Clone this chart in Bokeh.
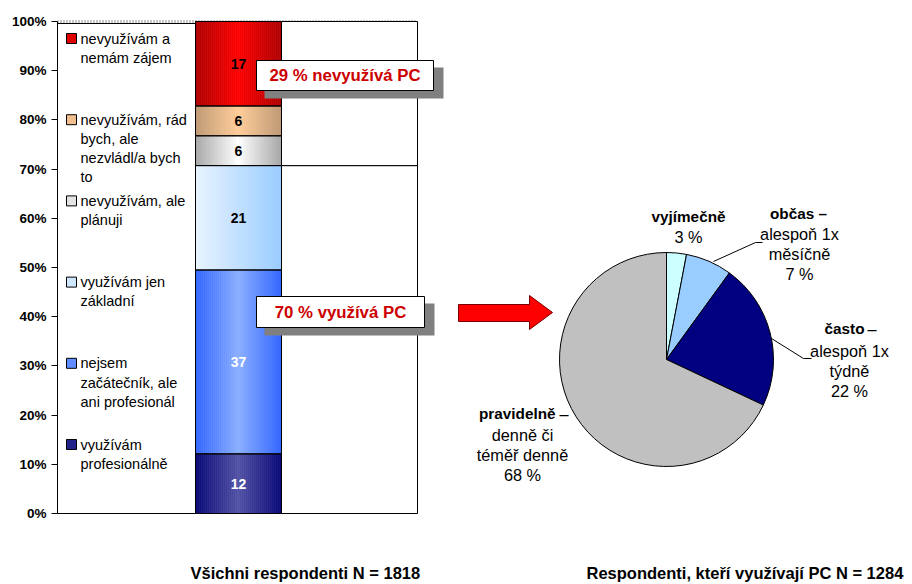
import math
from bokeh.plotting import figure
from bokeh.layouts import row
from bokeh.models import Range1d, FixedTicker, PrintfTickFormatter
from bokeh.core.properties import value
from bokeh.embed import file_html
from bokeh.resources import INLINE

FONT = "Liberation Sans"

# ---------------- data ----------------
# stacked bar (bottom -> top)
usage_categories = [
    "využívám profesionálně",
    "nejsem začátečník, ale ani profesionál",
    "využívám jen základní",
    "nevyužívám, ale plánuji",
    "nevyužívám, rád bych, ale nezvládl/a bych to",
    "nevyužívám a nemám zájem",
]
usage_values = [12, 37, 21, 6, 6, 17]
# legend texts (top -> bottom), wrapped as in the original
legend_texts = [
    ["nevyužívám a", "nemám zájem"],
    ["nevyužívám, rád", "bych, ale", "nezvládl/a bych", "to"],
    ["nevyužívám, ale", "plánuji"],
    ["využívám jen", "základní"],
    ["nejsem", "začátečník, ale", "ani profesionál"],
    ["využívám", "profesionálně"],
]
pc_split_labels = ["využívá PC", "nevyužívá PC"]
pc_split_values = [70, 29]

freq_names = ["vyjímečně", "občas", "často", "pravidelně"]
freq_desc = [[], ["alespoň 1x", "měsíčně"], ["alespoň 1x", "týdně"], ["denně či", "téměř denně"]]
freq_values = [3, 7, 22, 68]

n_all = 1818
n_pc = 1284
y_ticks = list(range(0, 101, 10))

# ---------------- styles ----------------
# (edge colour, centre colour, mode) for each stacked segment, bottom -> top
seg_styles = [
    ("#0a0a78", "#5252a6", "sym"),
    ("#3366ff", "#8aaeff", "sym"),
    ("#e8f3ff", "#99ccff", "lin"),
    ("#a8a8a8", "#ffffff", "sym"),
    ("#c09a74", "#ffcc99", "sym"),
    ("#b00000", "#ff0000", "sym"),
]
seg_text_colors = ["white", "white", "black", "black", "black", "black"]
legend_colors = ["#e00000", "#f2c08e", "#e4e4e4", "#cfe6ff", "#5f8dff", "#23238c"]
pie_colors = ["#ccffff", "#99ccff", "#000080", "#c0c0c0"]


def hex2rgb(h):
    h = h.lstrip("#")
    return tuple(int(h[i:i + 2], 16) for i in (0, 2, 4))


def mix(c1, c2, t):
    a, b = hex2rgb(c1), hex2rgb(c2)
    return "#%02x%02x%02x" % tuple(int(round(a[i] + (b[i] - a[i]) * t)) for i in range(3))


# ---------------- left figure (stacked bar) ----------------
PX = 4.92            # pixels per percent
BOTTOM_PAGE = 513    # page y of 0 %
H = 584


def py(page_y):
    return (BOTTOM_PAGE - page_y) / PX


left = figure(width=450, height=H, x_range=Range1d(57, 450),
              y_range=Range1d(py(H), py(0)), x_axis_type=None,
              output_backend="svg", toolbar_location=None,
              min_border_left=57, min_border_right=0, min_border_top=0, min_border_bottom=0)
left.outline_line_color = None
left.grid.visible = False
ax = left.yaxis[0]
ax.bounds = (0, 100)
ax.ticker = FixedTicker(ticks=y_ticks)
ax.formatter = PrintfTickFormatter(format="%d%%")
ax.major_label_text_font = FONT
ax.major_label_text_font_size = "13.5px"
ax.major_label_text_font_style = "bold"
ax.major_label_text_color = "black"
ax.major_label_standoff = 5
ax.major_tick_out = 6
ax.major_tick_in = 0
ax.minor_tick_out = 0
ax.minor_tick_in = 0
ax.axis_line_color = "black"
ax.major_tick_line_color = "black"

# top dotted border
left.line([57, 417], [py(21), py(21)], line_color="#8c8c8c", line_width=3, line_dash="1 2")

# legend box
left.quad(left=[57], right=[195], bottom=[0], top=[py(23)], fill_color="white", line_color="black", line_width=1)

total = sum(usage_values)
pct = [v * 100.0 / total for v in usage_values]
bottoms, tops = [], []
acc = 0.0
for v in pct:
    bottoms.append(acc)
    acc += v
    tops.append(acc)

BAR_L, BAR_R = 195, 281
NSTRIP = 43
sw = (BAR_R - BAR_L) / NSTRIP
for i in range(len(usage_values)):
    edge, center, mode = seg_styles[i]
    xs, cols = [], []
    for k in range(NSTRIP):
        t = k / (NSTRIP - 1)
        s = t if mode == "lin" else 1 - abs(2 * t - 1)
        xs.append(BAR_L + (k + 0.5) * sw)
        cols.append(mix(edge, center, s))
    left.vbar(x=xs, width=sw + 0.6, bottom=[bottoms[i]] * NSTRIP, top=[tops[i]] * NSTRIP,
              fill_color=cols, line_color=None)
left.vbar(x=[(BAR_L + BAR_R) / 2] * len(pct), width=BAR_R - BAR_L, bottom=bottoms, top=tops,
          fill_color=None, line_color="black", line_width=1)
left.text(x=[(BAR_L + BAR_R) / 2] * len(pct), y=[(b + t) / 2 for b, t in zip(bottoms, tops)],
          text=[str(v) for v in usage_values], text_color=seg_text_colors,
          text_font=value(FONT), text_font_size="14px", text_font_style="bold",
          text_align="center", text_baseline="middle")

# white split bar (PC users / non users)
pc_total = sum(pc_split_values)
pc_pct = [v * 100.0 / pc_total for v in pc_split_values]
pc_b = [0, pc_pct[0]]
pc_t = [pc_pct[0], 100]
left.vbar(x=[349, 349], width=136, bottom=pc_b, top=pc_t, fill_color="white", line_color="black", line_width=1)

# legend entries
for k, lines in enumerate(legend_texts):
    y0 = 38 + k * 81.2
    left.scatter(x=[71], y=[py(y0)], marker="square", size=10,
                 fill_color=legend_colors[k], line_color="black", line_width=1)
    left.text(x=[80] * len(lines), y=[py(y0 + j * 19.2) for j in range(len(lines))], text=lines,
              text_font=value(FONT), text_font_size="14.5px", text_color="black",
              text_align="left", text_baseline="middle")

# callout boxes
boxes = [
    (256, 433, 60, 90, f"{pc_split_values[1]} % {pc_split_labels[1]}"),
    (256, 424, 296, 327, f"{pc_split_values[0]} % {pc_split_labels[0]}"),
]
for l, r, t, b, txt in boxes:
    left.quad(left=[l + 8], right=[r + 10], top=[py(t + 7)], bottom=[py(b + 8)],
              fill_color="#808080", line_color=None)
    left.quad(left=[l], right=[r], top=[py(t)], bottom=[py(b)],
              fill_color="white", line_color="black", line_width=1)
    left.text(x=[(l + r) / 2], y=[py((t + b) / 2)], text=[txt], text_color="#cc0000",
              text_font=value(FONT), text_font_size="16.8px", text_font_style="bold",
              text_align="center", text_baseline="middle")

left.text(x=[190], y=[py(572)], text=[f"Všichni respondenti N = {n_all}"],
          text_font=value(FONT), text_font_size="16.5px", text_font_style="bold",
          text_color="black", text_align="left", text_baseline="middle")

# ---------------- right figure (pie) ----------------


def pp(page_y):
    return H - page_y


pie = figure(width=462, height=H, x_range=Range1d(450, 912), y_range=Range1d(0, H),
             x_axis_type=None, y_axis_type=None, output_backend="svg", toolbar_location=None,
             min_border_left=0, min_border_right=0, min_border_top=0, min_border_bottom=0)
pie.outline_line_color = None
pie.grid.visible = False

ftot = sum(freq_values)
starts, ends = [], []
acc = 0.0
for v in freq_values:
    starts.append(math.pi / 2 - 2 * math.pi * acc / ftot)
    acc += v
    ends.append(math.pi / 2 - 2 * math.pi * acc / ftot)
CX, CY, R = 666, pp(359), 107
pie.wedge(x=[CX] * 4, y=[CY] * 4, radius=R, start_angle=starts, end_angle=ends,
          direction="clock", fill_color=pie_colors, line_color="black", line_width=1)

# arrow
ax_pts = [458, 529, 529, 552, 529, 529, 458]
ay_pts = [304, 304, 295, 312, 329, 321, 321]
pie.patch(x=ax_pts, y=[pp(v) for v in ay_pts], fill_color="#ff0000", line_color="#7a0000", line_width=1)

# leader lines
pie.line([713, 755, 762], [pp(261), pp(242), pp(242)], line_color="black", line_width=1)
pie.line([771, 803, 811], [pp(338), pp(358), pp(358)], line_color="black", line_width=1)


def ptext(x, y, txt, bold=False, align="center"):
    pie.text(x=[x], y=[pp(y)], text=[txt], text_font=value(FONT),
             text_font_size="15.3px" if bold else "16.3px",
             text_font_style="bold" if bold else "normal", text_color="black",
             text_align=align, text_baseline="middle")


LS = 20
# vyjímečně
ptext(688, 216, freq_names[0], bold=True)
ptext(688, 216 + LS, f"{freq_values[0]} %")
# občas
ptext(798, 213, freq_names[1] + " –", bold=True)
for j, s in enumerate(freq_desc[1] + [f"{freq_values[1]} %"]):
    ptext(799, 213 + (j + 1) * LS, s)
# často
ptext(864, 328, freq_names[2], bold=True, align="right")
ptext(867, 328, "–", align="left")
for j, s in enumerate(freq_desc[2] + [f"{freq_values[2]} %"]):
    ptext(849, 350 + j * LS, s)
# pravidelně
ptext(555, 413, freq_names[3], bold=True, align="right")
ptext(559, 413, "–", align="left")
for j, s in enumerate(freq_desc[3] + [f"{freq_values[3]} %"]):
    ptext(522, 434 + j * LS, s)

pie.text(x=[586], y=[pp(572)], text=[f"Respondenti, kteří využívají PC N = {n_pc}"],
         text_font=value(FONT), text_font_size="16.5px", text_font_style="bold",
         text_color="black", text_align="left", text_baseline="middle")

layout = row(left, pie)
open("out.html", "w").write(file_html(layout, INLINE))
